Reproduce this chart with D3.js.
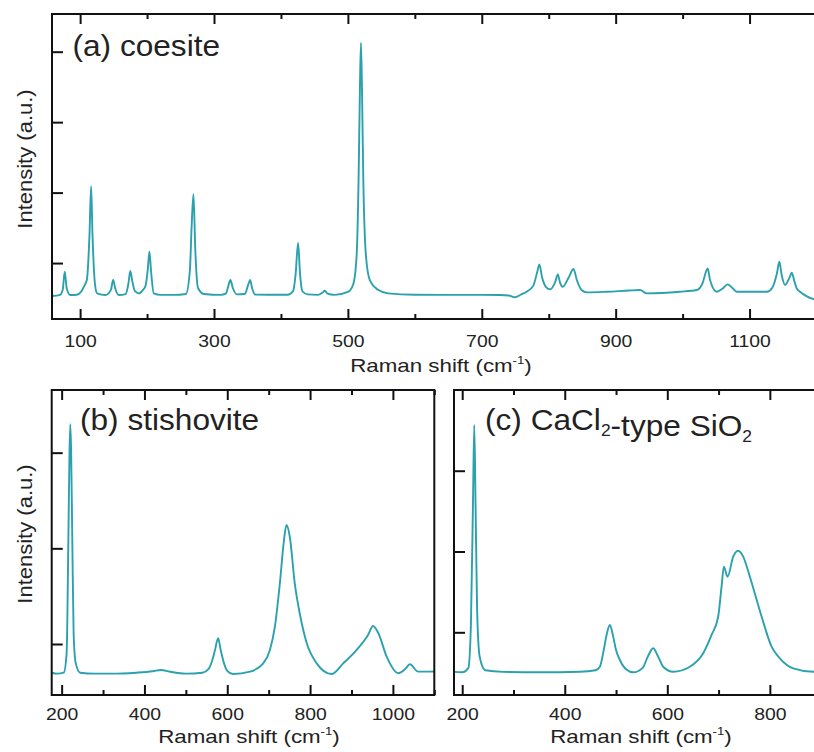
<!DOCTYPE html>
<html>
<head>
<meta charset="utf-8">
<script src="https://cdn.jsdelivr.net/npm/d3@7"></script>
<style>
  body { margin: 0; background: #fff; }
  svg { display: block; }
  text { font-family: "Liberation Sans", Arial, sans-serif; fill: #222; }
</style>
</head>
<body>
<svg id="fig" width="814" height="752"></svg>
<script>
// (a) coesite spectrum (counts, arbitrary)
var coesiteShift = [58, 70, 74, 77, 80, 85.5, 95, 102, 105.5, 110, 114, 116.4, 118.5, 122, 125.4, 137.8,
  146, 149.3, 152.5, 157.8, 168, 172, 175, 178, 182, 187.6, 194, 197.6, 201, 203.5, 206, 210,
  220, 240, 258, 264, 266.5, 269.3, 272, 276, 285, 310, 318, 321.5, 324.5, 328, 334, 346, 351, 353.9, 357,
  362, 380, 410, 418, 422, 425.6, 428.5, 432, 440, 455, 462, 465.5, 469, 480, 500, 508, 513, 516, 518,
  519.5, 521, 523, 527, 533, 545, 560, 600, 650, 700, 727, 740, 749.7, 758, 767, 777, 783, 786, 790, 796,
  802, 810, 813.5, 817, 821, 830, 837, 842, 849, 857, 887, 920, 936.5, 946.5, 996, 1021, 1030,
  1035, 1037.4, 1041, 1051, 1060, 1067.3, 1074, 1081, 1126, 1134, 1141, 1144.5, 1148, 1153, 1160,
  1163, 1167, 1170.4, 1175.4, 1185, 1200];
var coesiteIntensity = [532, 548, 620, 877, 640, 546, 550, 600, 664, 760, 1400, 2092, 1400, 720, 570, 546,
  620, 759, 640, 546, 560, 700, 887, 740, 600, 570, 620, 674, 900, 1160, 880, 570,
  548, 548, 560, 900, 1500, 1978, 1200, 650, 560, 548, 570, 680, 759, 650, 556, 560, 690, 759, 640,
  552, 550, 550, 600, 850, 1288, 850, 600, 555, 548, 580, 607, 570, 548, 590, 700, 1100, 2200, 3500,
  4124, 3500, 2200, 1100, 750, 620, 570, 550, 548, 548, 546, 540, 514, 550, 593, 680, 880, 981, 800, 660,
  627, 740, 840, 720, 664, 800, 915, 760, 617, 584, 593, 610, 617, 570, 593, 617, 720,
  880, 925, 760, 593, 640, 698, 650, 593, 593, 650, 860, 1018, 830, 688, 800,
  862, 740, 641, 593, 530, 475];

// (b) stishovite
var stishoviteShift = [176, 190, 205, 212, 216, 219, 221, 223, 226, 229, 234, 245, 280, 320, 380, 420,
  440, 460, 500, 540, 555, 563, 570, 578, 584, 592, 600, 614, 655, 687, 703, 715, 727, 737, 743, 751,
  763, 775, 792, 816, 852, 880, 912, 940, 952, 965, 985, 1013, 1030, 1041, 1061, 1089, 1100];
var stishoviteIntensity = [700, 690, 700, 900, 2000, 3000, 3297, 3000, 2000, 1100, 800, 700, 690, 690, 700, 715,
  729, 712, 690, 700, 740, 820, 930, 1060, 940, 800, 720, 686, 711, 798, 937, 1181, 1634, 2087, 2244, 2121,
  1634, 1321, 1007, 798, 686, 798, 937, 1094, 1188, 1112, 867, 694, 740, 788, 711, 711, 712];

// (c) CaCl2-type SiO2
var cacl2Shift = [184, 200, 212, 217, 221, 223.5, 226, 229, 234, 245, 280, 350, 429.5, 460, 468.5, 476, 482,
  488, 494, 500, 507.5, 520, 533.5, 552, 562, 572.5, 582, 592, 611.5, 644, 670, 686.3, 699.2, 705.8, 710.3,
  717.5, 728.5, 738.2, 748, 761, 784, 803.4, 819.5, 845.5, 884.5, 890];
var cacl2Intensity = [510, 505, 560, 1100, 2600, 3566, 2600, 1300, 700, 530, 510, 505, 512, 530, 574, 780, 980,
  1090, 960, 780, 657, 540, 505, 560, 700, 802, 700, 574, 512, 574, 740, 967, 1193, 1565, 1812,
  1688, 1936, 2010, 1936, 1688, 1193, 822, 678, 554, 512, 515];

// ticks
var xMajorA = [100, 300, 500, 700, 900, 1100];
var xMinorA = [200, 400, 600, 800, 1000, 1200];
var xMajorB = [200, 400, 600, 800, 1000];
var xMinorB = [300, 500, 700, 900, 1100];
var xMajorC = [200, 400, 600, 800];
var xMinorC = [300, 500, 700];
var yTicksA = [1000, 2000, 3000, 4000];
var yTicksBC = [1000, 2000, 3000];

var lineColor = '#2aa1ad';
var svg = d3.select('svg#fig');

function drawPanel(p) {
  var x = d3.scaleLinear().domain(p.xDomain).range([p.left, p.right]);
  var y = d3.scaleLinear().domain(p.yDomain).range([p.bottom, p.top]);

  var g = svg.append('g');

  g.append('clipPath').attr('id', p.id + '-clip')
    .append('rect')
    .attr('x', p.left).attr('y', p.top)
    .attr('width', p.right - p.left).attr('height', p.bottom - p.top);

  // spectrum
  var pts = p.shift.map((s, i) => [s, p.intensity[i]]);
  g.append('path')
    .datum(pts)
    .attr('clip-path', 'url(#' + p.id + '-clip)')
    .attr('fill', 'none')
    .attr('stroke', lineColor)
    .attr('stroke-width', 1.9)
    .attr('stroke-linejoin', 'round')
    .attr('d', d3.line().x(d => x(d[0])).y(d => y(d[1])).curve(d3.curveMonotoneX));

  function clean(sel) {
    sel.select('.domain').remove();
    sel.selectAll('line').attr('stroke', '#111').attr('stroke-width', 2);
  }

  // bottom axis, ticks pointing in
  g.append('g')
    .attr('transform', 'translate(0,' + p.bottom + ')')
    .call(d3.axisBottom(x).tickValues(p.major).tickSize(-10).tickPadding(p.labelPad).tickFormat(d3.format('d')))
    .call(clean)
    .call(s => s.selectAll('text')
      .attr('font-size', 17).attr('fill', '#222')
      .attr('font-family', '"Liberation Sans", Arial, sans-serif')
      .attr('transform', 'scale(1.14,1)'));
  g.append('g')
    .attr('transform', 'translate(0,' + p.bottom + ')')
    .call(d3.axisBottom(x).tickValues(p.minor).tickSize(-5).tickFormat(''))
    .call(clean);

  // top axis
  g.append('g')
    .attr('transform', 'translate(0,' + p.top + ')')
    .call(d3.axisTop(x).tickValues(p.major).tickSize(-10).tickFormat(''))
    .call(clean);
  g.append('g')
    .attr('transform', 'translate(0,' + p.top + ')')
    .call(d3.axisTop(x).tickValues(p.minor).tickSize(-5).tickFormat(''))
    .call(clean);

  // left axis, no labels
  g.append('g')
    .attr('transform', 'translate(' + p.left + ',0)')
    .call(d3.axisLeft(y).tickValues(p.yTicks).tickSize(-11).tickFormat(''))
    .call(clean);

  // frame
  g.append('rect')
    .attr('x', p.left).attr('y', p.top)
    .attr('width', p.right - p.left).attr('height', p.bottom - p.top)
    .attr('fill', 'none').attr('stroke', '#111').attr('stroke-width', 2);

  // x title
  var xt = g.append('text')
    .attr('transform', 'translate(' + p.xTitle[0] + ',' + p.xTitle[1] + ') scale(1.2,1)')
    .attr('text-anchor', 'middle')
    .attr('font-size', 18.6);
  xt.append('tspan').text('Raman shift (cm');
  xt.append('tspan').attr('font-size', 11).attr('dy', -8).text('-1');
  xt.append('tspan').attr('dy', 8).text(')');

  // y title
  if (p.yTitle) {
    g.append('text')
      .attr('transform', 'translate(' + p.yTitle[0] + ',' + p.yTitle[1] + ') rotate(-90) scale(1.1,1)')
      .attr('text-anchor', 'middle')
      .attr('font-size', 20)
      .text('Intensity (a.u.)');
  }

  // panel label
  var lab = g.append('text')
    .attr('transform', 'translate(' + p.label[0] + ',' + p.label[1] + ') scale(1.09,1)')
    .attr('font-size', 29)
    .attr('fill', '#2a2a2a');
  p.labelParts.forEach(part => {
    if (part.sub) {
      lab.append('tspan').attr('font-size', 16).attr('dy', 6).text(part.t);
      lab.append('tspan').attr('dy', -6).text('');
    } else {
      lab.append('tspan').text(part.t);
    }
  });
}

drawPanel({
  id: 'a', shift: coesiteShift, intensity: coesiteIntensity,
  xDomain: [58, 1200], yDomain: [206, 4535],
  left: 52, right: 816.5, top: 14, bottom: 319,
  major: xMajorA, minor: xMinorA, yTicks: yTicksA, labelPad: 15.5,
  xTitle: [441, 372], yTitle: [32, 159], label: [72.5, 55.5],
  labelParts: [{t: '(a) coesite'}]
});

drawPanel({
  id: 'b', shift: stishoviteShift, intensity: stishoviteIntensity,
  xDomain: [176, 1100], yDomain: [467, 3655],
  left: 51.7, right: 434.3, top: 390, bottom: 695,
  major: xMajorB, minor: xMinorB, yTicks: yTicksBC, labelPad: 13,
  xTitle: [249, 743], yTitle: [32, 534], label: [80, 430],
  labelParts: [{t: '(b) stishovite'}]
});

drawPanel({
  id: 'c', shift: cacl2Shift, intensity: cacl2Intensity,
  xDomain: [184, 890], yDomain: [224, 3999],
  left: 454, right: 816, top: 390, bottom: 695,
  major: xMajorC, minor: xMinorC, yTicks: yTicksBC, labelPad: 13,
  xTitle: [641, 743], yTitle: null, label: [485, 430],
  labelParts: [{t: '(c) CaCl'}, {t: '2', sub: true}, {t: '-type SiO'}, {t: '2', sub: true}]
});
</script>
</body>
</html>
